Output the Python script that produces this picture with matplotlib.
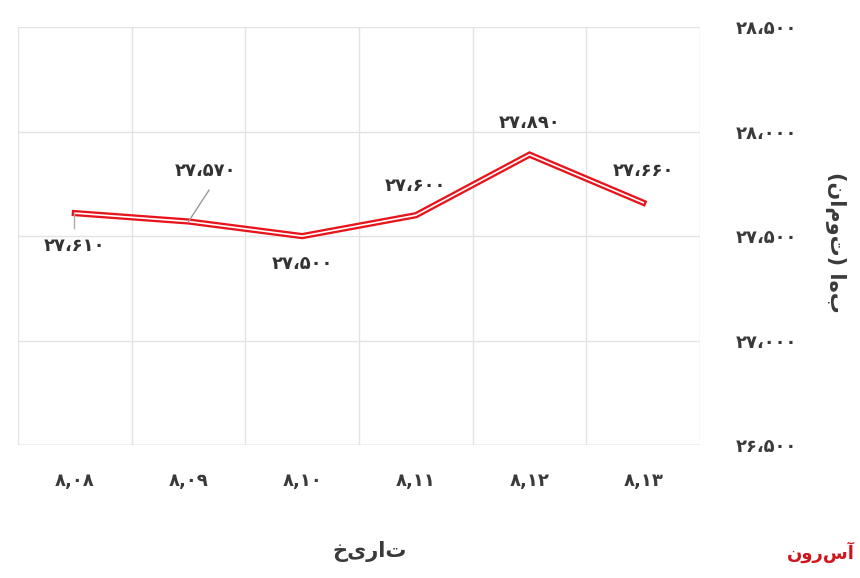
import matplotlib.pyplot as plt

plt.rcParams['font.family'] = ['DejaVu Sans']

dates = ['۸,۰۸', '۸,۰۹', '۸,۱۰', '۸,۱۱', '۸,۱۲', '۸,۱۳']
prices = [27610, 27570, 27500, 27600, 27890, 27660]
price_labels = ['۲۷،۶۱۰', '۲۷،۵۷۰', '۲۷،۵۰۰', '۲۷،۶۰۰', '۲۷،۸۹۰', '۲۷،۶۶۰']
yticks = [26500, 27000, 27500, 28000, 28500]
ytick_labels = ['۲۶،۵۰۰', '۲۷،۰۰۰', '۲۷،۵۰۰', '۲۸،۰۰۰', '۲۸،۵۰۰']


def rtl(s):
    # reverse for right-to-left display, keep brackets pointing the right way
    return s[::-1].translate(str.maketrans('()', ')('))


fig = plt.figure(figsize=(8.6, 5.78), dpi=100)
ax = fig.add_axes([0.021, 0.23, 0.793, 0.723])
x = range(len(dates))
ax.plot(x, prices, color='#e8141b', lw=4.5, solid_joinstyle='miter')
ax.plot(x, prices, color='white', lw=1.2, solid_joinstyle='miter')
ax.set_xlim(-0.5, 5.5)
ax.set_ylim(26500, 28500)
ax.set_yticks(yticks)
ax.set_yticklabels(ytick_labels, fontsize=13, color='#3a3a3a', fontweight='bold')
ax.yaxis.tick_right()
ax.tick_params(axis='y', length=0, pad=26)
ax.set_xticks([i + 0.5 for i in range(-1, 6)])
ax.set_xticklabels([])
ax.tick_params(axis='x', length=0)
ax.grid(True, color='#e3e3e3', lw=1)
for s in ax.spines.values():
    s.set_visible(False)
ax.axhline(26500, color='#d0d0d0', lw=1)
for i, d in enumerate(dates):
    ax.text(i, 26330, d, ha='center', va='center', fontsize=13, color='#3a3a3a',
            fontweight='bold')

offsets = [-155, 240, -135, 140, 150, 150]
for i, (lab, dy) in enumerate(zip(price_labels, offsets)):
    xi = i + (0.15 if i == 1 else 0)
    ax.text(xi, prices[i] + dy, lab, ha='center', va='center', fontsize=13,
            color='#333333', fontweight='bold')
ax.plot([-0.01, -0.01], [27610, 27540], color='#aaaaaa', lw=1)
ax.plot([1.0, 1.18], [27570, 27720], color='#999999', lw=1)

fig.text(0.972, 0.58, rtl('بها (تومان)'), rotation=270, ha='center', va='center',
         fontsize=15, color='#3a3a3a', fontweight='bold')
fig.text(0.43, 0.045, rtl('تاریخ'), ha='center', va='center', fontsize=15,
         color='#3a3a3a', fontweight='bold')
fig.text(0.955, 0.045, rtl('آسرون'), ha='center', va='center', fontsize=13,
         color='#d0161c', fontweight='bold')

fig.savefig('out.png', dpi=100)
